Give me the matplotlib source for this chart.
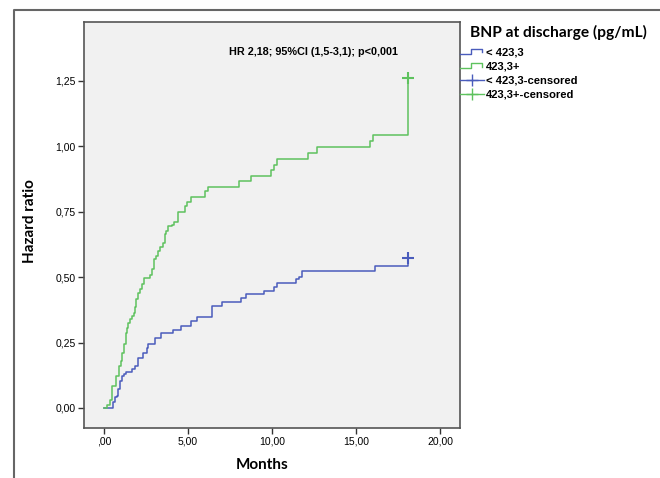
"""Cumulative hazard by BNP at discharge (Kaplan-Meier style step plot)."""

import matplotlib

matplotlib.use("Agg")
import matplotlib.pyplot as plt
from matplotlib.legend_handler import HandlerBase
from matplotlib.lines import Line2D

# step times (months) and cumulative hazard after each step
months_low = [0, 0.55, 0.65, 0.75, 0.85, 0.95, 1.05, 1.17, 1.29, 1.65,
              1.85, 2.00, 2.34, 2.54, 2.64, 3.04, 3.38, 4.08, 4.60, 5.20,
              5.55, 6.45, 7.03, 8.15, 8.45, 9.55, 10.10, 10.32, 11.45, 11.63,
              11.80, 16.13, 18.10]
hr_low = [0, 0.022, 0.041, 0.047, 0.072, 0.104, 0.121, 0.130, 0.136, 0.149,
          0.161, 0.190, 0.212, 0.228, 0.244, 0.269, 0.286, 0.298, 0.314, 0.333,
          0.348, 0.390, 0.405, 0.422, 0.434, 0.447, 0.464, 0.479, 0.491, 0.500,
          0.523, 0.542, 0.575]

months_high = [0, 0.20, 0.36, 0.46, 0.73, 0.89, 1.00, 1.10, 1.20, 1.29,
               1.37, 1.45, 1.55, 1.69, 1.77, 1.85, 1.92, 2.00, 2.12, 2.24,
               2.36, 2.76, 2.84, 2.96, 3.08, 3.19, 3.35, 3.51, 3.63, 3.71,
               3.83, 4.03, 4.15, 4.38, 4.84, 4.95, 5.15, 6.00, 6.20, 8.04,
               8.73, 9.92, 10.10, 10.30, 12.16, 12.66, 15.85, 16.03, 18.08]
hr_high = [0, 0.013, 0.030, 0.085, 0.123, 0.161, 0.180, 0.212, 0.244, 0.286,
           0.307, 0.324, 0.339, 0.352, 0.364, 0.384, 0.415, 0.441, 0.456, 0.472,
           0.495, 0.510, 0.532, 0.568, 0.580, 0.599, 0.616, 0.631, 0.663, 0.675,
           0.694, 0.701, 0.710, 0.749, 0.771, 0.786, 0.806, 0.828, 0.846, 0.866,
           0.888, 0.908, 0.928, 0.951, 0.974, 0.997, 1.022, 1.045, 1.260]

group_labels = ["< 423,3", "423,3+"]
x_ticks = [0, 5, 10, 15, 20]
x_tick_labels = [",00", "5,00", "10,00", "15,00", "20,00"]
y_ticks = [0, 0.25, 0.5, 0.75, 1.0, 1.25]
y_tick_labels = ["0,00", "0,25", "0,50", "0,75", "1,00", "1,25"]
annotation = "HR 2,18; 95%CI (1,5-3,1); p<0,001"

BLUE = "#4a5cbc"
GREEN = "#5ec25e"
SANS = ["Liberation Sans", "DejaVu Sans"]
HEAD = ["Lato", "DejaVu Sans"]


class StepHandler(HandlerBase):
    def create_artists(self, legend, orig_handle, xdescent, ydescent,
                       width, height, fontsize, trans):
        xs = [-xdescent, 0.45 * width, 0.45 * width, 0.92 * width, 0.92 * width]
        ys = [0.1 * height, 0.1 * height, 0.8 * height, 0.8 * height, 0.35 * height]
        line = Line2D(xs, ys, color=orig_handle.get_color(), lw=1.0)
        line.set_transform(trans)
        return [line]


fig = plt.figure(figsize=(6.6, 4.78), dpi=100)
ax = fig.add_axes([84 / 660, 1 - 428 / 478, 376 / 660, 406 / 478])
ax.set_facecolor("#f1f1f1")

ax.step(months_low, hr_low, where="post", color=BLUE, lw=1.1)
ax.step(months_high, hr_high, where="post", color=GREEN, lw=1.1)
ax.plot(months_low[-1], hr_low[-1], marker="+", color=BLUE, ms=8, mew=1.5)
ax.plot(months_high[-1], hr_high[-1], marker="+", color=GREEN, ms=8, mew=1.5)

ax.set_xlim(-1.19, 21.19)
ax.set_ylim(-0.0765, 1.475)
ax.set_xticks(x_ticks)
ax.set_xticklabels(x_tick_labels, family=SANS, fontsize=7.5)
ax.set_yticks(y_ticks)
ax.set_yticklabels(y_tick_labels, family=SANS, fontsize=7.5)
ax.tick_params(length=4, width=1, color="#333333", pad=2)
for sp in ax.spines.values():
    sp.set_color("#555555")
    sp.set_linewidth(1.2)

ax.set_xlabel("Months", family=HEAD, fontweight="bold", fontsize=11)
ax.xaxis.set_label_coords(0.475, -0.074)
ax.set_ylabel("Hazard ratio", family=HEAD, fontweight="bold", fontsize=11)
ax.yaxis.set_label_coords((37 - 84) / 376, 0.51)

ax.text(0.61, 0.927, annotation, transform=ax.transAxes, ha="center", va="center",
        family=SANS, fontweight="bold", fontsize=7.8)

# legend outside the plot area
fig.text(470 / 660, 1 - 32 / 478, "BNP at discharge (pg/mL)", family=HEAD,
         fontweight="bold", fontsize=11.2, ha="left", va="center")
handles = [
    Line2D([], [], color=BLUE),
    Line2D([], [], color=GREEN),
    Line2D([], [], color=BLUE, marker="+", ms=9, mew=1.0, lw=1.0),
    Line2D([], [], color=GREEN, marker="+", ms=9, mew=1.0, lw=1.0),
]
labels = group_labels + [g + "-censored" for g in group_labels]
fig.legend(handles, labels, loc="upper left",
           bbox_to_anchor=(460 / 660, 1 - 47 / 478), frameon=False,
           handler_map={handles[0]: StepHandler(), handles[1]: StepHandler()},
           prop={"family": SANS, "weight": "bold", "size": 8.1},
           handlelength=2.1, handletextpad=0.2, labelspacing=0.38,
           borderpad=0, borderaxespad=0)

# outer frame (top and left edges)
fig.add_artist(Line2D([14 / 660, 14 / 660, 1.0], [0.0, 1 - 10 / 478, 1 - 10 / 478],
                      transform=fig.transFigure, color="#666666", lw=1.5))

fig.savefig("out.png", dpi=100)
